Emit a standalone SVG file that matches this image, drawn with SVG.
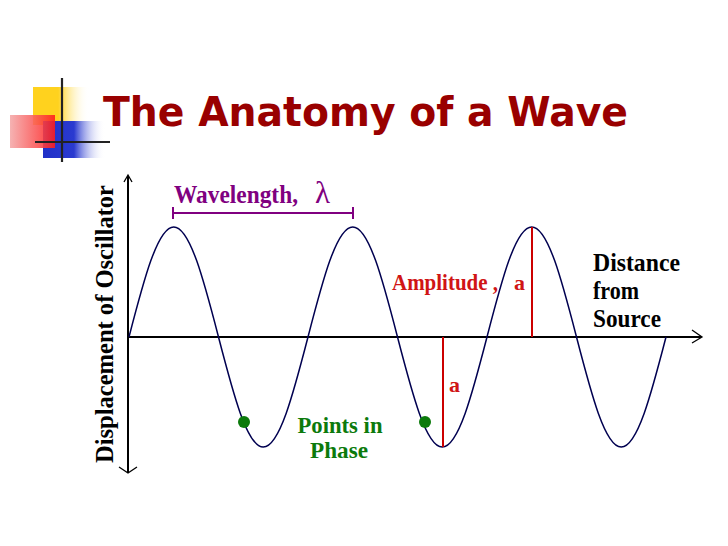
<svg xmlns="http://www.w3.org/2000/svg" width="728" height="546" viewBox="0 0 728 546">
<defs>
<linearGradient id="gy" x1="0" x2="1" y1="0" y2="0"><stop offset="0" stop-color="#ffd21e"/><stop offset="0.45" stop-color="#ffd21e"/><stop offset="1" stop-color="#ffffff" stop-opacity="0"/></linearGradient>
<linearGradient id="gr" x1="0" x2="1" y1="0" y2="0"><stop offset="0" stop-color="#f4a8a8"/><stop offset="1" stop-color="#ff1a1a"/></linearGradient>
<linearGradient id="gb" x1="0" x2="1" y1="0" y2="0"><stop offset="0" stop-color="#2030c8"/><stop offset="0.5" stop-color="#2a3ad0"/><stop offset="1" stop-color="#ffffff" stop-opacity="0"/></linearGradient>
</defs>
<style>
.serif{font-family:"Liberation Serif","Times New Roman",serif;font-weight:bold}
.axis{stroke:#000;stroke-width:2;fill:none}
.arrow{stroke:#000;stroke-width:1.3;fill:none}
.wave{stroke:#000050;stroke-width:1.5;fill:none}
.amp{stroke:#cc0000;stroke-width:2}
.wl{stroke:#800080;stroke-width:2}
.red{fill:#d01515}
.purple{fill:#800080}
.green{fill:#0c7a0c}
.black{fill:#000}
</style>
<rect width="728" height="546" fill="#ffffff"/>
<g id="logo">
<rect x="33" y="87" width="56" height="38" fill="url(#gy)"/>
<rect x="43" y="121" width="62" height="37" fill="url(#gb)"/>
<rect x="10" y="115" width="45" height="33" fill="url(#gr)" opacity="0.88"/>
<line x1="62" y1="78" x2="62" y2="162" stroke="#222" stroke-width="2.2"/>
<line x1="35" y1="142" x2="110" y2="142" stroke="#222" stroke-width="2.2"/>
</g>
<g id="title">
<text x="103" y="126" font-family="'DejaVu Sans',Verdana,sans-serif" font-weight="bold" font-size="40" fill="#990000" textLength="525" lengthAdjust="spacingAndGlyphs">The Anatomy of a Wave</text>
</g>
<g id="connectors">
<line class="axis" x1="128" y1="176" x2="128" y2="473"/>
<polyline class="arrow" points="124,182 128,175 132,182"/>
<polyline class="arrow" points="119,467 128,473 137,467"/>
<line class="axis" x1="128" y1="337" x2="701" y2="337"/>
<polyline class="arrow" points="692,330 702,337 692,343"/>
<path class="wave" d="M129,337 c14.59,-56.35 28.56,-110 44.75,-110 c16.19,0 30.16,53.65 44.75,110 c14.59,56.35 28.56,110 44.75,110 c16.19,0 30.16,-53.65 44.75,-110 c14.59,-56.35 28.56,-110 44.75,-110 c16.19,0 30.16,53.65 44.75,110 c14.59,56.35 28.56,110 44.75,110 c16.19,0 30.16,-53.65 44.75,-110 c14.59,-56.35 28.56,-110 44.75,-110 c16.19,0 30.16,53.65 44.75,110 c14.59,56.35 28.56,110 44.75,110 c16.19,0 30.16,-53.65 44.75,-110"/>
<line class="amp" x1="532" y1="227" x2="532" y2="337"/>
<line class="amp" x1="443" y1="337" x2="443" y2="447"/>
<line class="wl" x1="173" y1="213" x2="353" y2="213"/>
<line class="wl" x1="173" y1="207" x2="173" y2="219"/>
<line class="wl" x1="353" y1="207" x2="353" y2="219"/>
</g>
<g id="wavelength-label">
<text class="serif purple" x="174" y="203" font-size="24.5" textLength="124" lengthAdjust="spacingAndGlyphs">Wavelength,</text>
<text x="315" y="203" font-family="'Liberation Serif','Times New Roman',serif" font-size="31" class="purple">λ</text>
</g>
<g id="amplitude-label">
<text class="serif red" x="392" y="290" font-size="22.5" textLength="106" lengthAdjust="spacingAndGlyphs">Amplitude ,</text>
<text class="serif red" x="514" y="290" font-size="22">a</text>
<text class="serif red" x="449" y="392" font-size="22">a</text>
</g>
<g id="distance-label">
<text class="serif black" x="593" y="271" font-size="24.5" textLength="87" lengthAdjust="spacingAndGlyphs">Distance</text>
<text class="serif black" x="593" y="299" font-size="24.5" textLength="46" lengthAdjust="spacingAndGlyphs">from</text>
<text class="serif black" x="593" y="327" font-size="24.5" textLength="68" lengthAdjust="spacingAndGlyphs">Source</text>
</g>
<g id="displacement-label">
<text class="serif black" transform="translate(113,324) rotate(-90)" x="0" y="0" text-anchor="middle" font-size="25.5" textLength="278" lengthAdjust="spacingAndGlyphs">Displacement of Oscillator</text>
</g>
<g id="points-in-phase">
<circle cx="244" cy="422" r="6" fill="#0c7a0c"/>
<circle cx="425" cy="422" r="6" fill="#0c7a0c"/>
<text class="serif green" x="340" y="433" font-size="23.5" text-anchor="middle" textLength="85" lengthAdjust="spacingAndGlyphs">Points in</text>
<text class="serif green" x="339" y="458" font-size="23.5" text-anchor="middle" textLength="58" lengthAdjust="spacingAndGlyphs">Phase</text>
</g>
</svg>
